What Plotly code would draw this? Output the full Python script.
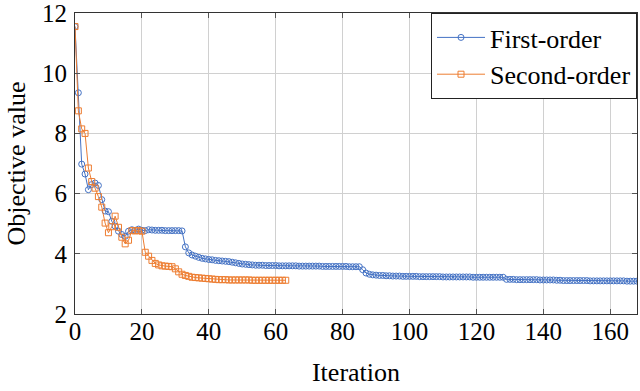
import plotly.graph_objects as go

first_order = [
    11.55, 9.35, 6.98, 6.65, 6.13, 6.30, 6.35, 6.27, 5.80, 5.42,
    5.40, 5.08, 4.92, 4.75, 4.64, 4.58, 4.75, 4.80, 4.78, 4.82,
    4.78, 4.77, 4.80, 4.79, 4.78, 4.78, 4.78, 4.77, 4.77, 4.77,
    4.77, 4.77, 4.76, 4.23, 4.03, 3.96, 3.92, 3.88, 3.85, 3.83,
    3.81, 3.80, 3.78, 3.77, 3.76, 3.75, 3.74, 3.72, 3.70, 3.68,
    3.66, 3.65, 3.64, 3.63, 3.62,
    3.62, 3.62, 3.61, 3.61, 3.61, 3.61, 3.60, 3.60, 3.60, 3.60,
    3.60, 3.60, 3.59, 3.59, 3.59, 3.59, 3.59, 3.59, 3.59, 3.58,
    3.58, 3.58, 3.58, 3.58, 3.58, 3.58, 3.58, 3.57, 3.57, 3.57, 3.57,
    3.47, 3.36, 3.32, 3.30, 3.29, 3.28, 3.28, 3.27, 3.27, 3.26, 3.26,
    3.26, 3.25, 3.25, 3.25, 3.25, 3.25, 3.24, 3.24, 3.24, 3.24,
    3.24, 3.24, 3.24, 3.23, 3.23, 3.23, 3.23, 3.23, 3.23, 3.23,
    3.23, 3.23, 3.22, 3.22, 3.22, 3.22, 3.22, 3.22, 3.22, 3.22,
    3.22, 3.22,
    3.15, 3.15, 3.15, 3.14, 3.14, 3.14, 3.14, 3.14, 3.14, 3.14,
    3.13, 3.13, 3.13, 3.13, 3.13,
    3.12, 3.12, 3.11, 3.11, 3.11, 3.11, 3.11, 3.11, 3.11, 3.11,
    3.10, 3.10, 3.10, 3.10, 3.10, 3.10, 3.10, 3.10, 3.10, 3.10,
    3.10, 3.09, 3.09, 3.09, 3.09,
]

second_order = [
    11.55, 8.75, 8.15, 8.00, 6.85, 6.40, 6.18, 5.90, 5.55, 5.02,
    4.70, 4.90, 5.25, 4.88, 4.55, 4.33, 4.45, 4.77, 4.76, 4.77,
    4.75, 4.05, 3.92, 3.78, 3.68, 3.63, 3.60, 3.59, 3.58, 3.57,
    3.50, 3.40, 3.32, 3.28, 3.25, 3.22, 3.21, 3.20, 3.19, 3.18,
    3.17, 3.16, 3.15,
    3.14, 3.14, 3.14, 3.13, 3.13, 3.13, 3.13, 3.13, 3.13, 3.13,
    3.12, 3.12, 3.12, 3.12, 3.12, 3.12, 3.12, 3.12, 3.12, 3.12, 3.12,
]

iter_first = list(range(len(first_order)))
iter_second = list(range(len(second_order)))

x_ticks = [0, 20, 40, 60, 80, 100, 120, 140, 160]
y_ticks = [2, 4, 6, 8, 10, 12]

BLUE = "#4472C4"
ORANGE = "#ED7D31"
FONT = "Liberation Serif, Times New Roman, Times, serif"

fig = go.Figure()
fig.add_trace(go.Scatter(
    x=iter_first, y=first_order, name="First-order", mode="lines+markers",
    line=dict(color=BLUE, width=1),
    marker=dict(symbol="circle-open", size=6, color=BLUE, line=dict(width=1)),
))
fig.add_trace(go.Scatter(
    x=iter_second, y=second_order, name="Second-order", mode="lines+markers",
    line=dict(color=ORANGE, width=1),
    marker=dict(symbol="square-open", size=6, color=ORANGE, line=dict(width=1)),
))

axis_common = dict(
    showline=True, linecolor="#333333", linewidth=1, mirror="ticks",
    ticks="inside", ticklen=5, tickcolor="#555555",
    showgrid=True, gridcolor="#d0d0d0", gridwidth=1, zeroline=False,
    tickfont=dict(family=FONT, size=25, color="black"),
    automargin=False, ticklabeloverflow="allow",
)

fig.update_xaxes(range=[0, 168], tickvals=x_ticks, ticklabelstandoff=-5,
                 title=dict(text="Iteration", font=dict(family=FONT, size=26, color="black"), standoff=18),
                 **axis_common)
fig.update_yaxes(range=[1.999, 12.001], tickvals=y_ticks, ticklabelstandoff=2,
                 title=dict(text="Objective value", font=dict(family=FONT, size=26, color="black"), standoff=8),
                 **axis_common)

fig.update_layout(
    width=640, height=391,
    margin=dict(l=75, r=3, t=13, b=77),
    plot_bgcolor="white", paper_bgcolor="white",
    font=dict(family=FONT, size=25, color="black"),
    legend=dict(x=1, y=1, xanchor="right", yanchor="top",
                bgcolor="white", bordercolor="#222222", borderwidth=1,
                font=dict(family=FONT, size=26, color="black"),
                tracegroupgap=0, itemwidth=48),
    showlegend=True,
)

fig.write_html("out.html", post_script="document.body.style.margin='0';",
               config={"displayModeBar": False})
